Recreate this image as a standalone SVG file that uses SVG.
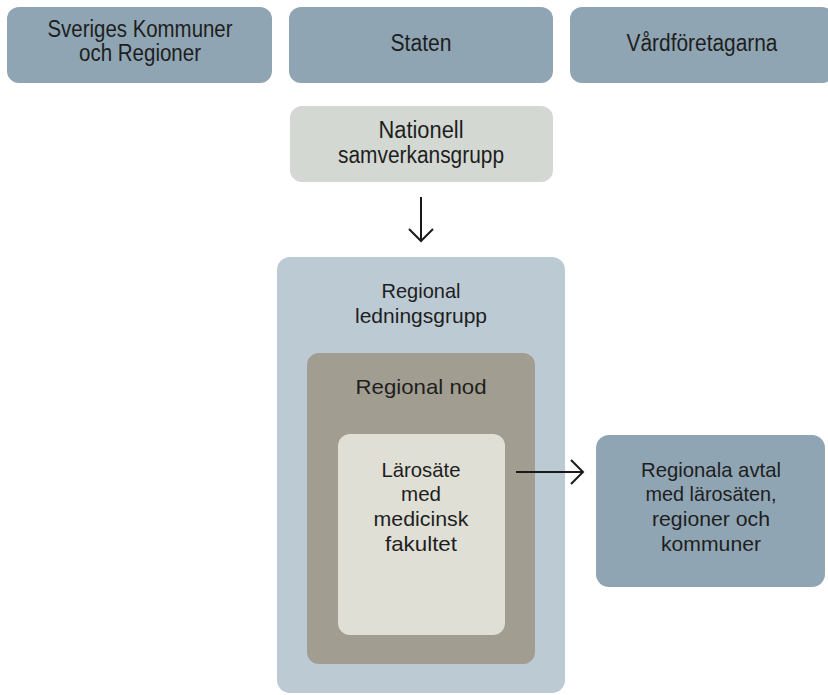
<svg xmlns="http://www.w3.org/2000/svg" width="828" height="695" viewBox="0 0 828 695">
<style>
.t{font-family:"Liberation Sans",Arial,sans-serif;font-size:21px;fill:#1e1e1e;text-anchor:middle}
.tc{font-family:"Liberation Sans",Arial,sans-serif;font-size:23px;fill:#1e1e1e;text-anchor:middle}
.dark{fill:#8fa5b3}
.con{stroke:#1a1a1a;stroke-width:2;fill:none}
</style>
<defs>
<marker id="ah" markerWidth="16" markerHeight="26" refX="13" refY="13" orient="auto" markerUnits="userSpaceOnUse">
<path d="M1,1 L13,13 L1,25" fill="none" stroke="#1a1a1a" stroke-width="2"/>
</marker>
</defs>
<rect width="828" height="695" fill="#ffffff"/>
<g id="skr">
<rect class="dark" x="7" y="7" width="265" height="76" rx="12"/>
<text class="tc" x="140" y="37" textLength="185" lengthAdjust="spacingAndGlyphs">Sveriges Kommuner</text>
<text class="tc" x="140" y="61" textLength="122" lengthAdjust="spacingAndGlyphs">och Regioner</text>
</g>
<g id="staten">
<rect class="dark" x="289" y="7" width="264" height="76" rx="12"/>
<text class="tc" x="421" y="51" textLength="61" lengthAdjust="spacingAndGlyphs">Staten</text>
</g>
<g id="vardforetagarna">
<rect class="dark" x="570" y="7" width="264" height="76" rx="12"/>
<text class="tc" x="702" y="51" textLength="151" lengthAdjust="spacingAndGlyphs">Vårdföretagarna</text>
</g>
<g id="nationell">
<rect x="290" y="106" width="263" height="76" rx="12" fill="#d3d8d2"/>
<text class="tc" x="421" y="138" textLength="85" lengthAdjust="spacingAndGlyphs">Nationell</text>
<text class="tc" x="421" y="163" textLength="166" lengthAdjust="spacingAndGlyphs">samverkansgrupp</text>
</g>
<g id="ledningsgrupp">
<rect x="277" y="257" width="288" height="436" rx="13" fill="#bccad3"/>
<text class="t" x="421" y="298" textLength="79" lengthAdjust="spacingAndGlyphs">Regional</text>
<text class="t" x="421" y="323" textLength="132" lengthAdjust="spacingAndGlyphs">ledningsgrupp</text>
</g>
<g id="nod">
<rect x="307" y="353" width="228" height="311" rx="12" fill="#a19e91"/>
<text class="t" x="421" y="394" textLength="131" lengthAdjust="spacingAndGlyphs">Regional nod</text>
</g>
<g id="larosate">
<rect x="338" y="434" width="167" height="201" rx="12" fill="#dfdfd6"/>
<text class="t" x="421" y="477" textLength="79" lengthAdjust="spacingAndGlyphs">Lärosäte</text>
<text class="t" x="421" y="501" textLength="40" lengthAdjust="spacingAndGlyphs">med</text>
<text class="t" x="421" y="526" textLength="95" lengthAdjust="spacingAndGlyphs">medicinsk</text>
<text class="t" x="421" y="551" textLength="72" lengthAdjust="spacingAndGlyphs">fakultet</text>
</g>
<g id="avtal">
<rect class="dark" x="596" y="435" width="229" height="152" rx="13"/>
<text class="t" x="711" y="477" textLength="140" lengthAdjust="spacingAndGlyphs">Regionala avtal</text>
<text class="t" x="711" y="501" textLength="131" lengthAdjust="spacingAndGlyphs">med lärosäten,</text>
<text class="t" x="711" y="526" textLength="118" lengthAdjust="spacingAndGlyphs">regioner och</text>
<text class="t" x="711" y="551" textLength="100" lengthAdjust="spacingAndGlyphs">kommuner</text>
</g>
<g id="connectors">
<line class="con" x1="421" y1="197" x2="421" y2="241" marker-end="url(#ah)"/>
<line class="con" x1="516" y1="472" x2="583" y2="472" marker-end="url(#ah)"/>
</g>
</svg>
